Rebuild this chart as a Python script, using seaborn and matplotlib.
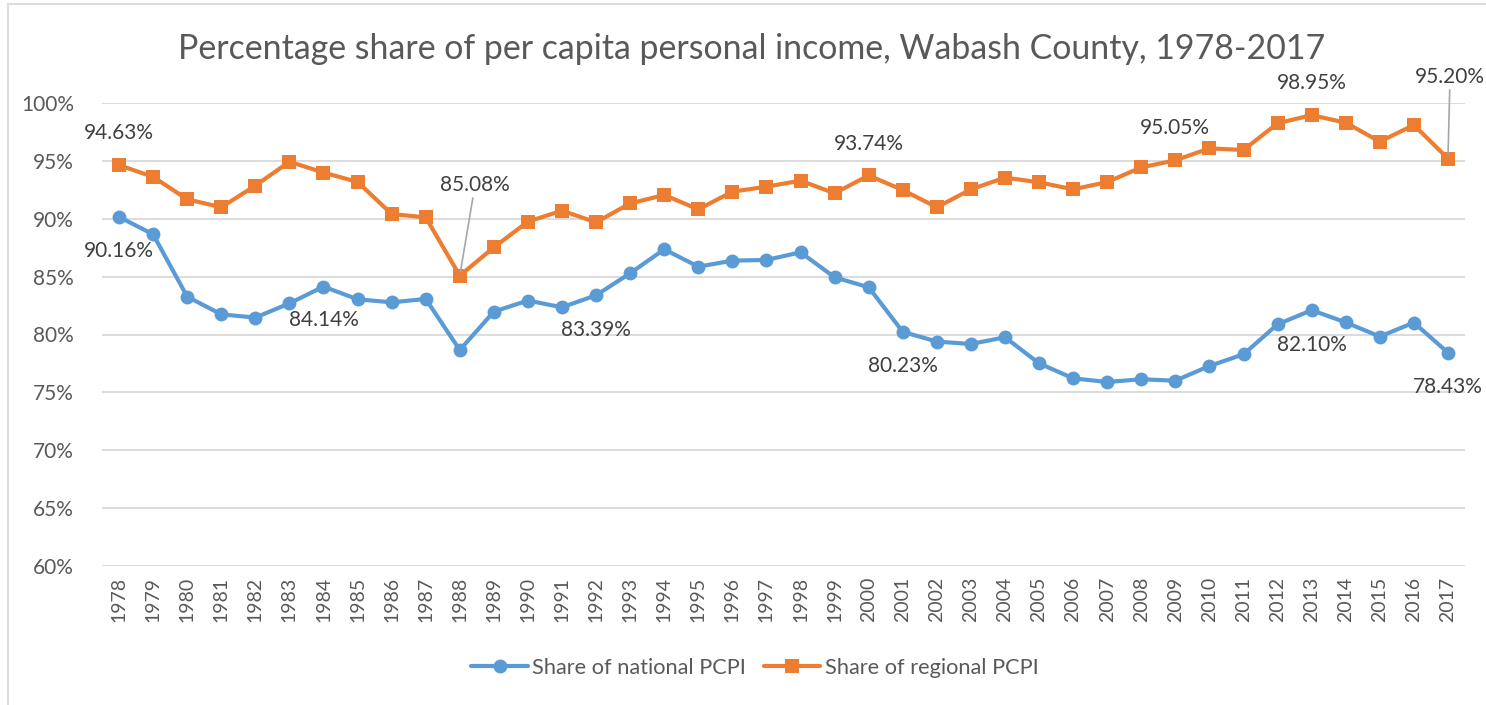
import numpy as np
import pandas as pd
import matplotlib
matplotlib.use("Agg")
import matplotlib.pyplot as plt
import seaborn as sns
from matplotlib.patches import Rectangle

years = list(range(1978, 2018))

national = [90.16, 88.65, 83.27, 81.74, 81.46, 82.69, 84.14, 83.04, 82.78, 83.07,
            78.66, 81.98, 82.93, 82.35, 83.39, 85.29, 87.36, 85.86, 86.38, 86.44,
            87.10, 84.94, 84.08, 80.23, 79.39, 79.18, 79.76, 77.51, 76.21, 75.90,
            76.13, 76.01, 77.28, 78.29, 80.88, 82.10, 81.05, 79.82, 81.03, 78.43]

regional = [94.63, 93.62, 91.68, 90.99, 92.86, 94.93, 93.99, 93.18, 90.41, 90.12,
            85.08, 87.53, 89.75, 90.70, 89.69, 91.33, 92.05, 90.81, 92.34, 92.77,
            93.29, 92.20, 93.74, 92.48, 90.99, 92.54, 93.55, 93.15, 92.54, 93.17,
            94.44, 95.05, 96.08, 95.94, 98.25, 98.95, 98.30, 96.66, 98.10, 95.20]

series_names = ["Share of national PCPI", "Share of regional PCPI"]
colors = ["#5B9BD5", "#ED7D31"]

# labelled points: (series, year, dx pt, dy pt, leader line)
labels = [
    (0, 1978, 0, -24.5, False), (0, 1984, 0, -24, False), (0, 1992, 0, -25, False),
    (0, 2001, 0, -24.5, False), (0, 2013, 0, -25, False), (0, 2017, 0, -24.5, False),
    (1, 1978, 0, 23, False), (1, 1988, 11, 65.5, True), (1, 2000, 0, 22.5, False),
    (1, 2009, 0, 23, False), (1, 2013, 0, 23, False), (1, 2017, 1.5, 59, True),
]

df = pd.DataFrame({
    "Year": years * 2,
    "Value": national + regional,
    "Series": [series_names[0]] * len(years) + [series_names[1]] * len(years),
})

sns.set_theme(style="white")
plt.rcParams["font.family"] = ["Lato", "DejaVu Sans"]
text_col = "#595959"

fig = plt.figure(figsize=(14.86, 7.05), dpi=100)
ax = fig.add_axes([102 / 1486, 1 - 566 / 705, (1465 - 102) / 1486, (566 - 103) / 705])

sns.lineplot(data=df, x="Year", y="Value", hue="Series", style="Series",
             palette=colors, markers=["o", "s"], dashes=False, linewidth=3,
             markersize=10, markeredgewidth=0, ax=ax, legend=True)

ax.set_ylim(60, 100)
ax.set_xlim(1977.5, 2017.5)
ax.set_yticks(np.arange(60, 101, 5))
ax.set_yticklabels([f"{v}%" for v in range(60, 101, 5)], fontsize=15, color=text_col)
ax.set_xticks(years)
ax.set_xticklabels([str(y) for y in years], rotation=90, fontsize=14, color=text_col)
ax.tick_params(axis="both", length=0, pad=8)
ax.tick_params(axis="y", pad=20)
ax.grid(axis="y", color="#d9d9d9", linewidth=1.3)
ax.set_axisbelow(True)
for s in ax.spines.values():
    s.set_visible(False)
ax.set_xlabel("")
ax.set_ylabel("")

for si, yr, dx, dy, leader in labels:
    val = (national if si == 0 else regional)[years.index(yr)]
    kw = {}
    if leader:
        kw["arrowprops"] = dict(arrowstyle="-", color="#a6a6a6", lw=1.2,
                                shrinkA=0, shrinkB=3)
    ax.annotate(f"{val:.2f}%", xy=(yr, val), xytext=(dx, dy), textcoords="offset points",
                ha="center", va="center", fontsize=15, color="#404040", **kw)

handles, lbls = ax.get_legend_handles_labels()
ax.get_legend().remove()
fig.legend(handles, lbls, loc="center", bbox_to_anchor=(0.508, 0.0525), ncol=2,
           frameon=False, fontsize=15.7, handlelength=2.6, handletextpad=0.2,
           columnspacing=0.8, labelcolor=text_col)

fig.text(0.506, 1 - 49 / 705, "Percentage share of per capita personal income, Wabash County, 1978-2017",
         ha="center", va="center", fontsize=24.4, color=text_col)

fig.patches.append(Rectangle((8 / 1486, -0.1), 1.2, 1 - 4.5 / 705 + 0.1, transform=fig.transFigure,
                             fill=False, edgecolor="#d9d9d9", linewidth=1.3))

fig.savefig("out.png", dpi=100, facecolor="white")
